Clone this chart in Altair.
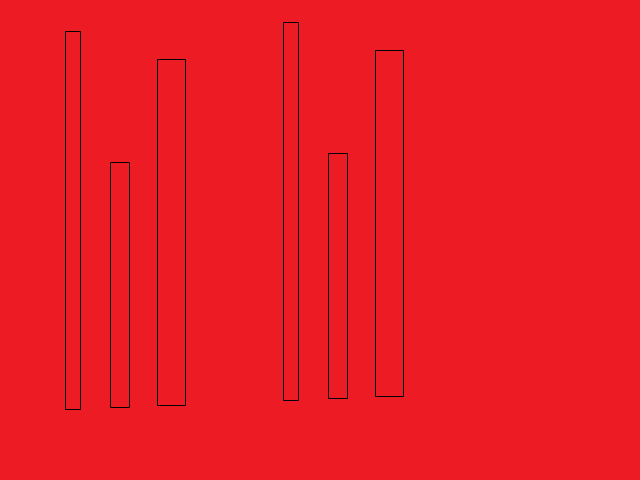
import altair as alt
import pandas as pd

# Rectangle extents in chart units (x to the right, y downward from the top edge)
x_start = [65.5, 110.5, 157.5, 283.5, 328.5, 375.5]
x_end = [80.5, 129.5, 185.5, 298.5, 347.5, 403.5]
y_top = [31.5, 162.5, 59.5, 22.5, 153.5, 50.5]
y_bottom = [409.5, 407.5, 405.5, 400.5, 398.5, 396.5]

df = pd.DataFrame({"x0": x_start, "x1": x_end, "y0": y_top, "y1": y_bottom})

W, H = 640, 480

chart = (
    alt.Chart(df)
    .mark_rect(fillOpacity=0, stroke="black", strokeWidth=1)
    .encode(
        x=alt.X("x0:Q", axis=None, scale=alt.Scale(domain=[0, W], range=[0, W], nice=False, zero=False)),
        x2="x1:Q",
        y=alt.Y("y0:Q", axis=None, scale=alt.Scale(domain=[0, H], range=[0, H], nice=False, zero=False)),
        y2="y1:Q",
    )
    .properties(
        width=W,
        height=H,
        background="#ED1C24",
        padding=0,
        autosize=alt.AutoSizeParams(type="none"),
    )
    .configure_view(stroke=None)
)

chart.save("out.html", embed_options={"renderer": "svg", "actions": False})
